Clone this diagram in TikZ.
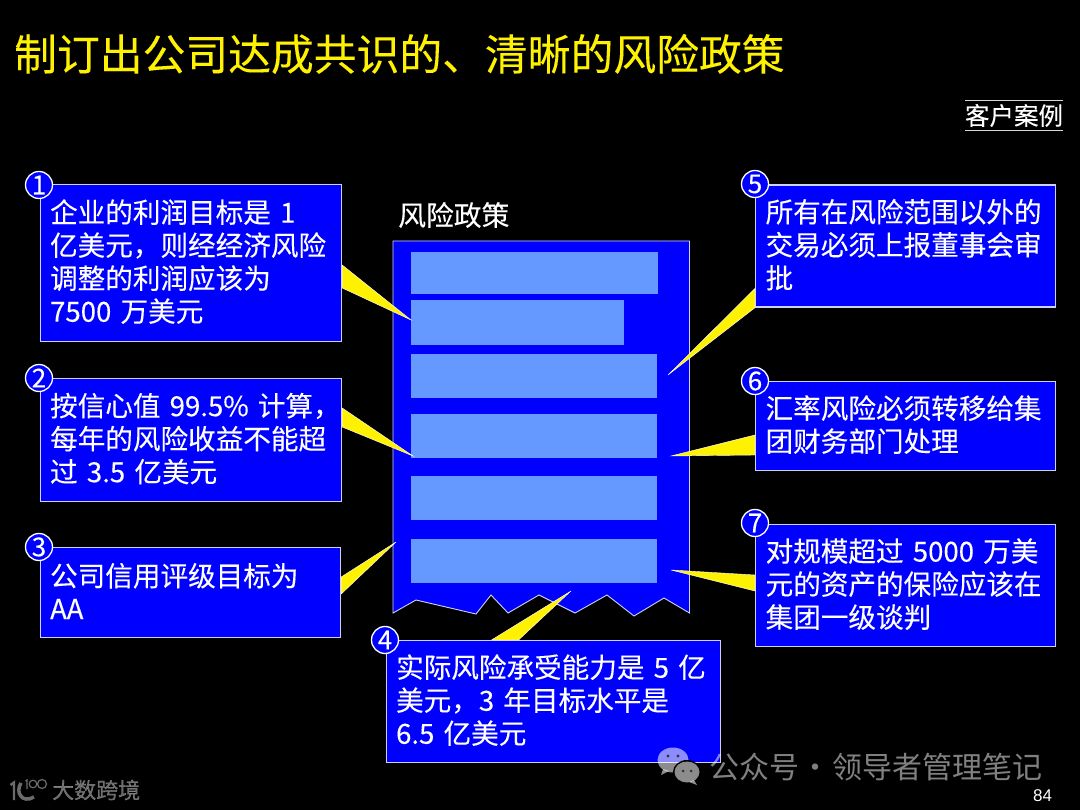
\documentclass[tikz,border=0pt]{standalone}
\usepackage{fontspec}
\setmainfont[FakeBold=0.15]{Noto Sans CJK SC}
\newfontfamily\wmfont{Noto Sans CJK SC}
\newfontfamily\logofont[FakeBold=0.5]{Noto Sans CJK SC}
\newfontfamily\numfont{Liberation Sans}
\usetikzlibrary{calc}
\definecolor{boxblue}{HTML}{0000FF}
\definecolor{barblue}{HTML}{6699FF}
\definecolor{edgecol}{HTML}{D0D0FF}
\tikzset{
  infobox/.style={draw=edgecol,line width=1.2pt,fill=boxblue,text=white,anchor=north west,
    inner xsep=10pt,inner ysep=0pt,align=left,
    font=\fontsize{27.6}{33}\selectfont},
  barbox/.style={fill=barblue,anchor=north west,inner sep=0pt},
  wedgeshape/.style={fill=yellow,draw=white,line width=0.4pt,line join=miter},
  badge/.style={circle,draw=white,line width=1.3pt,fill=boxblue,text=white,minimum size=27pt,inner sep=0pt,
    font=\fontsize{26}{26}\selectfont},
  wmtext/.style={text=white,text opacity=0.5,inner sep=0pt,anchor=west},
}
\begin{document}
\begin{tikzpicture}[x=1pt,y=-1pt]
\useasboundingbox (0,0) rectangle (1080,810);
\fill[black] (0,0) rectangle (1080,810);

% title
\node[text=yellow,anchor=west,inner sep=0pt,font=\fontsize{42.8}{46}\selectfont] (title) at (14,54) {制订出公司达成共识的、清晰的风险政策};

% tag
\node[text=white,inner sep=0pt,font=\fontsize{24.5}{26}\selectfont] (tag) at (1014,115.5) {客户案例};
\coordinate (tagtl) at (965,100.5);
\coordinate (tagtr) at (1063,100.5);
\coordinate (tagbl) at (965,130.5);
\coordinate (tagbr) at (1063,130.5);
\draw[white!85!black,line width=1.2pt] (tagtl) -- (tagtr);
\draw[white!85!black,line width=1.2pt] (tagbl) -- (tagbr);

% document
\node[text=white,anchor=west,inner sep=0pt,font=\fontsize{27.8}{30}\selectfont] (doctitle) at (398,215) {风险政策};
\draw[edgecol,line width=0.9pt,fill=boxblue] (393,241) -- (689.5,241) -- (689.5,613) -- (664,598) -- (634,616) -- (607,595) -- (575,613) -- (539,595) -- (508,613) -- (491,595) -- (476,614) -- (416,600) -- (393,613) -- cycle;
\node[barbox,minimum width=247pt,minimum height=42pt] (bar1) at (411,252) {};
\node[barbox,minimum width=213pt,minimum height=45pt] (bar2) at (411,300) {};
\node[barbox,minimum width=246pt,minimum height=44pt] (bar3) at (411,354) {};
\node[barbox,minimum width=246pt,minimum height=44pt] (bar4) at (411,414) {};
\node[barbox,minimum width=246pt,minimum height=44pt] (bar5) at (411,476) {};
\node[barbox,minimum width=246pt,minimum height=44pt] (bar6) at (411,539) {};

% boxes
\node[infobox,minimum width=301.5pt,minimum height=157pt,text width=281.5pt] (b1) at (39.5,184) {企业的利润目标是 1\\亿美元，则经经济风险\\调整的利润应该为\\7500 万美元\vspace{3pt}};
\node[infobox,minimum width=301.5pt,minimum height=123pt,text width=281.5pt] (b2) at (39.5,378) {\makebox[260pt][l]{按信心值 99.5\% 计算，}\\每年的风险收益不能超\\过 3.5 亿美元\vspace{3pt}};
\node[infobox,minimum width=300.5pt,minimum height=90pt,text width=280.5pt] (b3) at (39.5,547) {公司信用评级目标为\\AA\vspace{3pt}};
\node[infobox,minimum width=334.5pt,minimum height=122pt,text width=314.5pt] (b4) at (385.5,640) {实际风险承受能力是 5 亿\\美元，3 年目标水平是\\6.5 亿美元\vspace{3pt}};
\node[infobox,minimum width=300pt,minimum height=122pt,text width=280pt] (b5) at (755,184.5) {所有在风险范围以外的\\交易必须上报董事会审\\批\vspace{3pt}};
\node[infobox,minimum width=300pt,minimum height=89pt,text width=280pt] (b6) at (755,381) {汇率风险必须转移给集\\团财务部门处理\vspace{3pt}};
\node[infobox,minimum width=300pt,minimum height=122pt,text width=280pt] (b7) at (755,524) {对规模超过 5000 万美\\元的资产的保险应该在\\集团一级谈判\vspace{3pt}};

% callout wedges
\coordinate (t1) at (411,320);
\coordinate (t2) at (413,456);
\coordinate (t3) at (396,542);
\coordinate (t4) at (571,591);
\coordinate (t5) at (668,375);
\coordinate (t6) at (671,456);
\coordinate (t7) at (671,570);
\draw[wedgeshape] ($(b1.north east)+(0,81)$) -- (t1) -- ($(b1.north east)+(0,104)$) -- cycle;
\draw[wedgeshape] ($(b2.north east)+(0,30)$) -- (t2) -- ($(b2.north east)+(0,49)$) -- cycle;
\draw[wedgeshape] ($(b3.north east)+(0,30)$) -- (t3) -- ($(b3.north east)+(0,47)$) -- cycle;
\draw[wedgeshape] ($(b4.north west)+(106,0)$) -- (t4) -- ($(b4.north west)+(133,0)$) -- cycle;
\draw[wedgeshape] ($(b5.north west)+(0,104)$) -- (t5) -- ($(b5.south west)$) -- cycle;
\draw[wedgeshape] ($(b6.north west)+(0,54)$) -- (t6) -- ($(b6.north west)+(0,74)$) -- cycle;
\draw[wedgeshape] ($(b7.north west)+(0,51)$) -- (t7) -- ($(b7.north west)+(0,67)$) -- cycle;

% badges
\node[badge] (n1) at (39,185) {1};
\node[badge] (n2) at (39,378) {2};
\node[badge] (n3) at (39,547) {3};
\node[badge] (n4) at (385,640) {4};
\node[badge] (n5) at (755,184) {5};
\node[badge] (n6) at (755,381) {6};
\node[badge] (n7) at (755,523) {7};

% page number
\node[text=white,inner sep=0pt,font=\numfont\fontsize{17}{18}\selectfont] (page) at (1042.5,796) {84};

% wechat watermark
\begin{scope}[fill=white,fill opacity=0.55]
\fill (673,760) ellipse (15.5 and 12.5);
\fill (663,769) -- (661,775) -- (669,771) -- cycle;
\end{scope}
\begin{scope}
\fill[black] (687,772) ellipse (14 and 12);
\fill[white,fill opacity=0.55] (687,772) ellipse (12.5 and 10.5);
\fill[white,fill opacity=0.55] (694,780) -- (697,785) -- (689,782) -- cycle;
\fill[black!80] (668,756) circle (1.7);
\fill[black!80] (678,756) circle (1.7);
\fill[black!80] (683,771) circle (1.5);
\fill[black!80] (691,771) circle (1.5);
\end{scope}
\node[wmtext,font=\wmfont\fontsize{30}{31}\selectfont] (wm) at (709,767) {公众号\makebox[33pt][c]{·}领导者管理笔记};

% logo
\draw[white,opacity=0.42,line width=2.4pt] (10.5,785) -- (14,782.5) -- (14,800);
\draw[white,opacity=0.42,line width=3.5pt] (21,783) .. controls (15,792) and (22,804) .. (34,797);
\draw[white,opacity=0.42,line width=1.2pt] (27,789) -- (27,780) -- (25.5,781);
\draw[white,opacity=0.42,line width=1.2pt] (33,784) circle (3.8);
\draw[white,opacity=0.42,line width=1.2pt] (42,784) circle (4.5);
\node[text=white,text opacity=0.42,anchor=west,inner sep=0pt,font=\logofont\fontsize{22}{24}\selectfont] (logotext) at (52,790) {大数跨境};
\end{tikzpicture}
\end{document}
